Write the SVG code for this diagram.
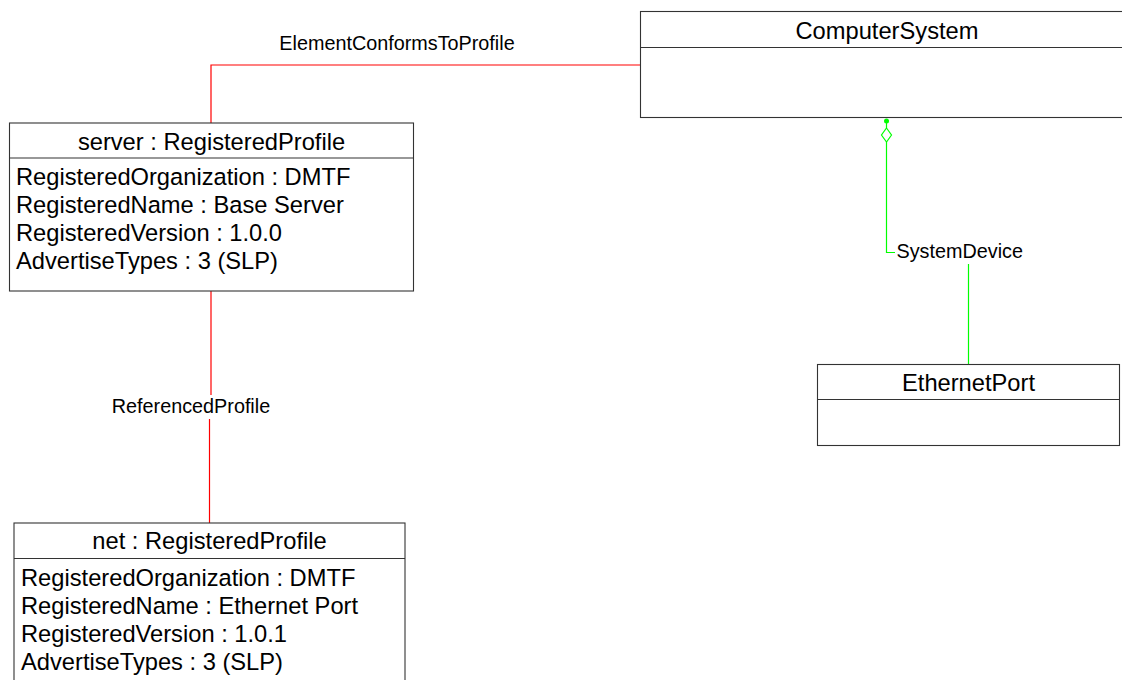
<svg xmlns="http://www.w3.org/2000/svg" width="1122" height="680" viewBox="0 0 1122 680">
<style>
.box{fill:#fff;stroke:#333;stroke-width:1.1}
.div{stroke:#333;stroke-width:1.1}
.t{font-family:"Liberation Sans",Arial,sans-serif;font-size:23.7px;fill:#000}
.c{text-anchor:middle}
.lbl{font-family:"Liberation Sans",Arial,sans-serif;font-size:19.8px;fill:#000}
.red{fill:none;stroke:#ff0000;stroke-width:1.2}
.grn{fill:none;stroke:#00ff00;stroke-width:1.2}
</style>
<rect width="1122" height="680" fill="#fff"/>
<g id="connectors">
  <polyline class="red" points="640,65 211,65 211,123"/>
  <polyline class="red" points="211,291 211,395"/>
  <polyline class="red" points="209.5,419 209.5,523"/>
  <circle cx="886.5" cy="121" r="2.5" fill="#00ff00"/>
  <polyline class="grn" points="886.5,121 886.5,128"/>
  <polygon class="grn" points="886.5,128 891.5,135 886.5,142 881.5,135" fill="#fff"/>
  <polyline class="grn" points="886.5,142 886.5,252.5 895,252.5"/>
  <polyline class="grn" points="968.5,264 968.5,364"/>
  <text class="lbl c" x="397" y="50">ElementConformsToProfile</text>
  <text class="lbl c" x="191" y="413">ReferencedProfile</text>
  <text class="lbl" x="896.5" y="258">SystemDevice</text>
</g>
<g id="ComputerSystem">
  <rect class="box" x="640.5" y="11.5" width="494" height="106"/>
  <line class="div" x1="640.5" y1="47.5" x2="1134" y2="47.5"/>
  <text class="t c" x="887" y="39">ComputerSystem</text>
</g>
<g id="server">
  <rect class="box" x="9.5" y="123" width="404" height="168"/>
  <line class="div" x1="9.5" y1="158" x2="413.5" y2="158"/>
  <text class="t c" x="211.5" y="150">server : RegisteredProfile</text>
  <text class="t" x="16" y="185">RegisteredOrganization : DMTF</text>
  <text class="t" x="16" y="213">RegisteredName : Base Server</text>
  <text class="t" x="16" y="241">RegisteredVersion : 1.0.0</text>
  <text class="t" x="16" y="269">AdvertiseTypes : 3 (SLP)</text>
</g>
<g id="net">
  <rect class="box" x="14" y="523" width="391" height="170"/>
  <line class="div" x1="14" y1="558.5" x2="405" y2="558.5"/>
  <text class="t c" x="209.5" y="549">net : RegisteredProfile</text>
  <text class="t" x="21" y="586">RegisteredOrganization : DMTF</text>
  <text class="t" x="21" y="614">RegisteredName : Ethernet Port</text>
  <text class="t" x="21" y="642">RegisteredVersion : 1.0.1</text>
  <text class="t" x="21" y="670">AdvertiseTypes : 3 (SLP)</text>
</g>
<g id="EthernetPort">
  <rect class="box" x="817.5" y="364.5" width="302" height="81"/>
  <line class="div" x1="817.5" y1="399.5" x2="1119.5" y2="399.5"/>
  <text class="t c" x="968.5" y="391">EthernetPort</text>
</g>
</svg>
